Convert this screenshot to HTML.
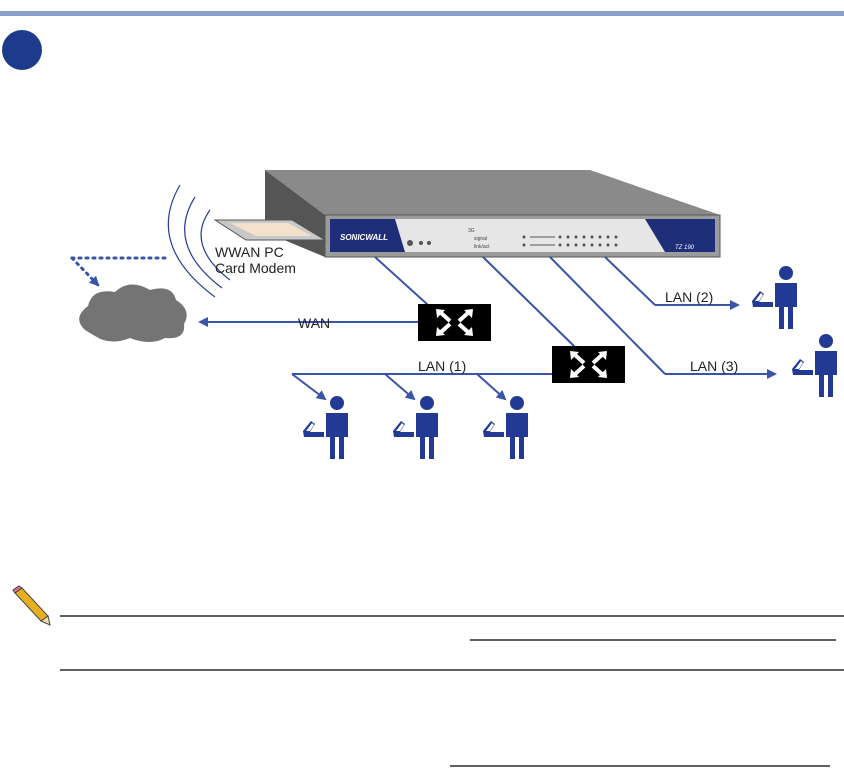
<!DOCTYPE html>
<html><head><style>
body{margin:0;background:#fff;width:844px;height:769px;overflow:hidden;position:relative;font-family:"Liberation Sans",sans-serif}
</style></head><body>
<svg width="844" height="769" viewBox="0 0 844 769" style="position:absolute;left:0;top:0">
<defs>
<marker id="a" markerWidth="10" markerHeight="10" refX="8" refY="5" orient="auto" markerUnits="userSpaceOnUse"><path d="M0,0 L10,5 L0,10 z" fill="#3a55a8"/></marker>
<g id="p"><circle cx="14" cy="8" r="7" fill="#223a94"/><path d="M3,18 h22 v24 h-4 v22 h-5 v-22 h-4 v22 h-5 v-22 h-4 z" fill="#223a94"/><path d="M-20,36 l8,-10 l4,3 l-5,8 h14 v5 h-20 z" fill="#223a94"/><path d="M-17,36 l6,-8 l2,2 l-4,6z" fill="#fff"/></g>
<g id="s"><rect width="73" height="37" fill="#000"/><g stroke="#fff" stroke-width="4" fill="#fff"><path d="M22,8 l10,9"/><path d="M51,8 l-10,9"/><path d="M22,29 l10,-9"/><path d="M51,29 l-10,-9"/></g><g fill="#fff"><path d="M18,5 l9,1 l-8,8z"/><path d="M55,5 l-9,1 l8,8z"/><path d="M18,32 l9,-1 l-8,-8z"/><path d="M55,32 l-9,-1 l8,-8z"/></g></g>
</defs>
<rect x="0" y="11" width="844" height="5" fill="#8d9fcb"/>
<circle cx="22" cy="50" r="20" fill="#1d3a8c"/>
<!-- radio waves -->
<g fill="none" stroke="#2a3f96" stroke-width="1.2">
<path d="M180,185 Q145,245 215,297"/><path d="M195,197 Q165,245 222,288"/><path d="M210,210 Q185,245 230,280"/>
</g>
<!-- device -->
<polygon points="265,170 590,170 720,215 325,215" fill="#8a8a8a"/>
<polygon points="265,170 325,215 325,257 265,232" fill="#555"/>
<rect x="325" y="215" width="395" height="42" fill="#9b9b9b" stroke="#555"/>
<rect x="330" y="219" width="385" height="33" fill="#e6e6e6"/>
<polygon points="330,219 395,219 405,252 330,252" fill="#1e2e78"/>
<polygon points="645,219 715,219 715,252 665,252" fill="#1e2e78"/>
<text x="340" y="240" font-size="8" font-weight="bold" font-style="italic" fill="#fff">SONICWALL</text>
<text x="675" y="249" font-size="6" font-style="italic" fill="#fff">TZ 190</text>
<g fill="#555"><circle cx="410" cy="243" r="3"/><circle cx="421" cy="243" r="2"/><circle cx="429" cy="243" r="2"/></g>
<text x="468" y="232" font-size="5" fill="#444">3G</text><text x="474" y="240" font-size="5" fill="#444">signal</text><text x="474" y="248" font-size="5" fill="#444">link/act</text>
<g fill="#555">
<circle cx="524" cy="237" r="1.5"/><circle cx="524" cy="245" r="1.5"/>
<circle cx="560" cy="237" r="1.5"/><circle cx="568" cy="237" r="1.5"/><circle cx="576" cy="237" r="1.5"/><circle cx="584" cy="237" r="1.5"/><circle cx="592" cy="237" r="1.5"/><circle cx="600" cy="237" r="1.5"/><circle cx="608" cy="237" r="1.5"/><circle cx="616" cy="237" r="1.5"/>
<circle cx="560" cy="245" r="1.5"/><circle cx="568" cy="245" r="1.5"/><circle cx="576" cy="245" r="1.5"/><circle cx="584" cy="245" r="1.5"/><circle cx="592" cy="245" r="1.5"/><circle cx="600" cy="245" r="1.5"/><circle cx="608" cy="245" r="1.5"/><circle cx="616" cy="245" r="1.5"/>
</g>
<line x1="530" y1="237" x2="555" y2="237" stroke="#555"/><line x1="530" y1="245" x2="555" y2="245" stroke="#555"/>
<!-- card -->
<polygon points="215,220 292,220 325,240 246,240" fill="#c8c8c8" stroke="#555"/>
<polygon points="230,223 288,223 312,236 256,236" fill="#f5e0cc"/>
<text x="215" y="257" font-size="14" fill="#222">WWAN PC</text>
<text x="215" y="273" font-size="14" fill="#222">Card Modem</text>
<!-- dotted -->
<path d="M72,258 H167" stroke="#3a55a8" stroke-width="3" stroke-dasharray="2,5" stroke-linecap="round"/>
<path d="M72,258 L98,285" stroke="#3a55a8" stroke-width="3" stroke-dasharray="2,5" stroke-linecap="round" marker-end="url(#a)"/>
<!-- cloud -->
<path d="M85,330 Q72,318 88,306 Q92,288 115,292 Q130,278 150,290 Q172,284 176,300 Q192,310 184,324 Q186,340 165,338 Q150,346 130,338 Q110,346 95,336 Z" fill="#747474"/>
<!-- lines -->
<g stroke="#3a55a8" stroke-width="2" fill="none">
<line x1="375" y1="257" x2="428" y2="305"/>
<line x1="418" y1="322" x2="200" y2="322" marker-end="url(#a)"/>
<line x1="483" y1="257" x2="575" y2="347"/>
<line x1="552" y1="374" x2="292" y2="374"/>
<line x1="292" y1="374" x2="325" y2="399" marker-end="url(#a)"/>
<line x1="385" y1="374" x2="414" y2="399" marker-end="url(#a)"/>
<line x1="477" y1="374" x2="505" y2="399" marker-end="url(#a)"/>
<line x1="550" y1="257" x2="665" y2="374"/>
<line x1="665" y1="374" x2="775" y2="374" marker-end="url(#a)"/>
<line x1="605" y1="257" x2="655" y2="305"/>
<line x1="655" y1="305" x2="738" y2="305" marker-end="url(#a)"/>
</g>
<use href="#s" x="418" y="304"/>
<use href="#s" x="552" y="346"/>
<g font-size="14" fill="#222">
<text x="298" y="328">WAN</text>
<text x="418" y="371">LAN (1)</text>
<text x="665" y="302">LAN (2)</text>
<text x="690" y="371">LAN (3)</text>
</g>
<use href="#p" x="323" y="395"/>
<use href="#p" x="413" y="395"/>
<use href="#p" x="503" y="395"/>
<use href="#p" x="772" y="265"/>
<use href="#p" x="812" y="333"/>
<!-- pencil -->
<g transform="translate(10,588)">
<polygon points="5,5 12,0 38,28 31,33" fill="#e8b020" stroke="#444"/>
<polygon points="31,33 38,28 40,37" fill="#f0d8a8" stroke="#444"/>
<polygon points="5,5 12,0 9,-2 3,2" fill="#e07090" stroke="#444"/>
</g>
<g stroke="#000" stroke-width="1.3">
<line x1="60" y1="616" x2="844" y2="616"/>
<line x1="470" y1="640" x2="836" y2="640"/>
<line x1="60" y1="670" x2="844" y2="670"/>
<line x1="450" y1="766" x2="830" y2="766"/>
</g>
</svg>
</body></html>
